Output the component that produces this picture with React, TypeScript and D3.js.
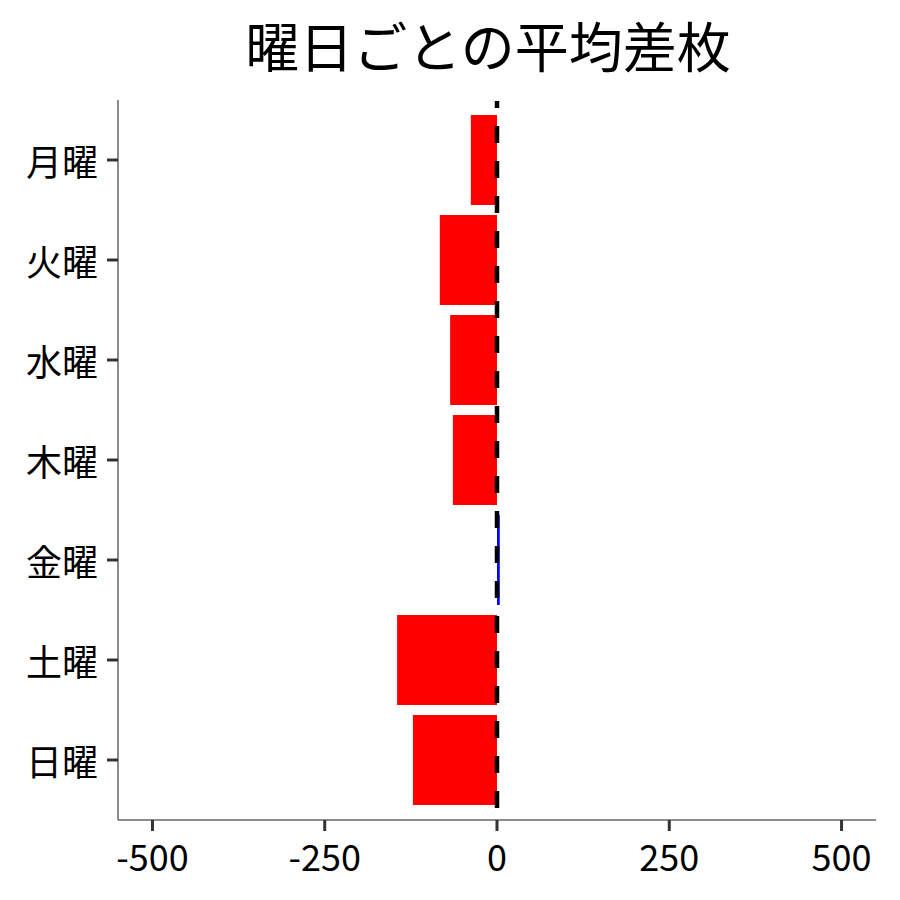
import * as d3 from "d3";

const days = ["月曜", "火曜", "水曜", "木曜", "金曜", "土曜", "日曜"];
const avgDiff = [-38, -83, -68, -64, 4, -145, -122];
const xTicks = [-500, -250, 0, 250, 500];
const title = "曜日ごとの平均差枚";

const W = 900;
const H = 900;
const FONT = "'Noto Sans CJK JP', 'Noto Sans', sans-serif";

export default function App() {
  const x = d3.scaleLinear().domain([-550, 550]).range([118, 876]);
  const y = d3
    .scaleBand<string>()
    .domain(days)
    .range([110, 810])
    .paddingInner(0.1)
    .paddingOuter(0.05);

  const top = 100;
  const bottom = 820;
  const left = x.range()[0];
  const right = x.range()[1];

  return (
    <div style={{ position: "absolute", left: 0, top: 0 }}>
      <svg width={W} height={H} style={{ display: "block", background: "#fff" }}>
        <text
          x={488}
          y={44}
          textAnchor="middle"
          dominantBaseline="central"
          fontFamily={FONT}
          fontSize={54}
          fill="#000"
        >
          {title}
        </text>

        {/* bars */}
        {days.map((d, i) => {
          const v = avgDiff[i];
          const x0 = x(Math.min(0, v));
          const x1 = x(Math.max(0, v));
          return (
            <rect
              key={d}
              x={x0}
              y={y(d)}
              width={Math.max(0, x1 - x0)}
              height={y.bandwidth()}
              fill={v < 0 ? "#ff0000" : "#0000ff"}
            />
          );
        })}

        {/* zero reference line */}
        <line
          x1={x(0)}
          x2={x(0)}
          y1={101}
          y2={bottom}
          stroke="#000"
          strokeWidth={4.5}
          strokeDasharray="17 18"
          strokeDashoffset={10}
        />

        {/* y axis */}
        <line x1={left} x2={left} y1={top} y2={bottom} stroke="#666" strokeWidth={1.5} />
        {days.map((d) => {
          const cy = (y(d) ?? 0) + y.bandwidth() / 2;
          return (
            <g key={d}>
              <line x1={107} x2={left} y1={cy} y2={cy} stroke="#333" strokeWidth={3} />
              <text
                x={98}
                y={cy}
                textAnchor="end"
                dominantBaseline="central"
                fontFamily={FONT}
                fontSize={36}
                fill="#000"
              >
                {d}
              </text>
            </g>
          );
        })}

        {/* x axis */}
        <line x1={left} x2={right} y1={bottom} y2={bottom} stroke="#666" strokeWidth={1.5} />
        {xTicks.map((t) => (
          <g key={t}>
            <line x1={x(t)} x2={x(t)} y1={bottom} y2={831} stroke="#333" strokeWidth={3} />
            <text
              x={x(t)}
              y={855}
              textAnchor="middle"
              dominantBaseline="central"
              fontFamily={FONT}
              fontSize={36}
              fill="#000"
            >
              {t}
            </text>
          </g>
        ))}
      </svg>
    </div>
  );
}
